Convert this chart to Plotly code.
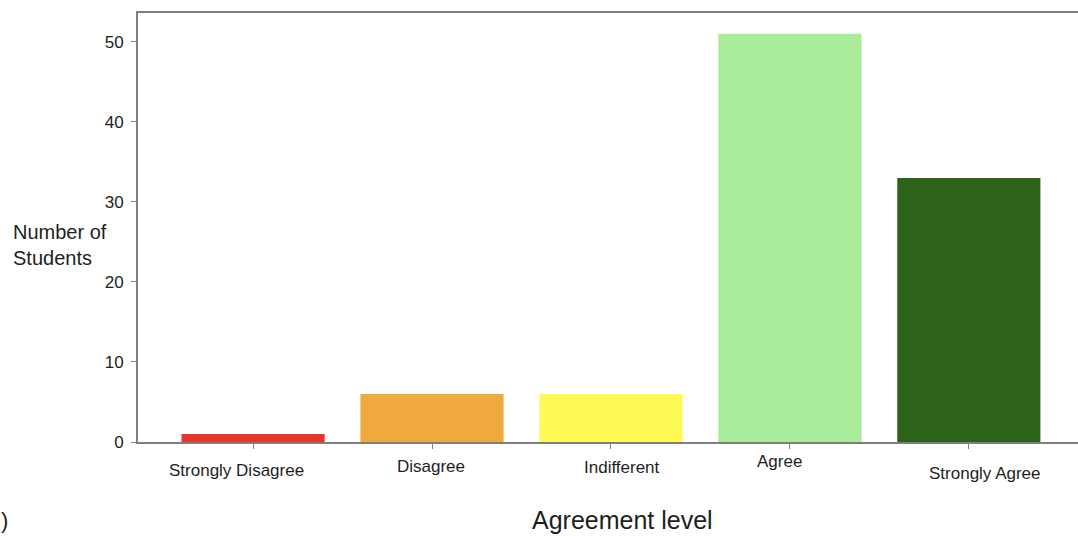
import plotly.graph_objects as go

# Survey responses by agreement level
categories = ["Strongly Disagree", "Disagree", "Indifferent", "Agree", "Strongly Agree"]
students = [1, 6, 6, 51, 33]
bar_colors = ["#e8352b", "#f0a93d", "#fefa55", "#a8eb99", "#2d6219"]
y_ticks = [0, 10, 20, 30, 40, 50]

# Hand-placed category labels (pixel nudges relative to each tick)
label_dx = [-17, -1, 11, -10, 16]
label_dy = [-28, -24, -25, -19, -31]

FONT = "Liberation Sans, Arial, sans-serif"
AXIS = "#7f7f7f"
TEXT = "#1e1e1e"

fig = go.Figure(
    go.Bar(
        x=list(range(len(categories))),
        y=students,
        width=0.8,
        marker=dict(color=bar_colors, line=dict(width=0)),
    )
)

for i, (name, dx, dy) in enumerate(zip(categories, label_dx, label_dy)):
    fig.add_annotation(
        x=i, y=0, xref="x", yref="paper", text=name, showarrow=False,
        xanchor="center", yanchor="middle",
        xshift=dx, yshift=dy, font=dict(family=FONT, size=17, color=TEXT),
    )

fig.add_annotation(
    x=0, y=1, xref="paper", yref="paper", xanchor="left", yanchor="middle",
    text="Number of<br>Students", align="left", showarrow=False,
    xshift=-127, yshift=-232, font=dict(family=FONT, size=20, color=TEXT),
)
fig.add_annotation(
    x=0.5, y=0, xref="paper", yref="paper", text="Agreement level",
    xanchor="center", yanchor="middle",
    showarrow=False, yshift=-78, xshift=14,
    font=dict(family=FONT, size=25, color=TEXT),
)
fig.add_annotation(
    x=0, y=0, xref="paper", yref="paper", xanchor="left", yanchor="middle",
    text=")", showarrow=False, xshift=-139, yshift=-78,
    font=dict(family=FONT, size=22, color=TEXT),
)

fig.update_layout(
    width=1078, height=536,
    margin=dict(l=138, r=0, t=13, b=94),
    paper_bgcolor="white", plot_bgcolor="white",
    showlegend=False,
    xaxis=dict(
        range=[-0.643, 4.61], tickvals=list(range(len(categories))),
        showticklabels=False, ticks="outside", ticklen=5, tickcolor=AXIS,
        showline=True, linecolor=AXIS, linewidth=2, mirror=True,
        showgrid=False, zeroline=False,
    ),
    yaxis=dict(
        range=[0, 53.6], tickvals=y_ticks,
        ticks="outside", ticklen=5, tickcolor=AXIS,
        showline=True, linecolor=AXIS, linewidth=2,
        showgrid=False, zeroline=False, ticklabelstandoff=4,
        tickfont=dict(family=FONT, size=17, color=TEXT),
    ),
)

fig.write_html("out.html")
